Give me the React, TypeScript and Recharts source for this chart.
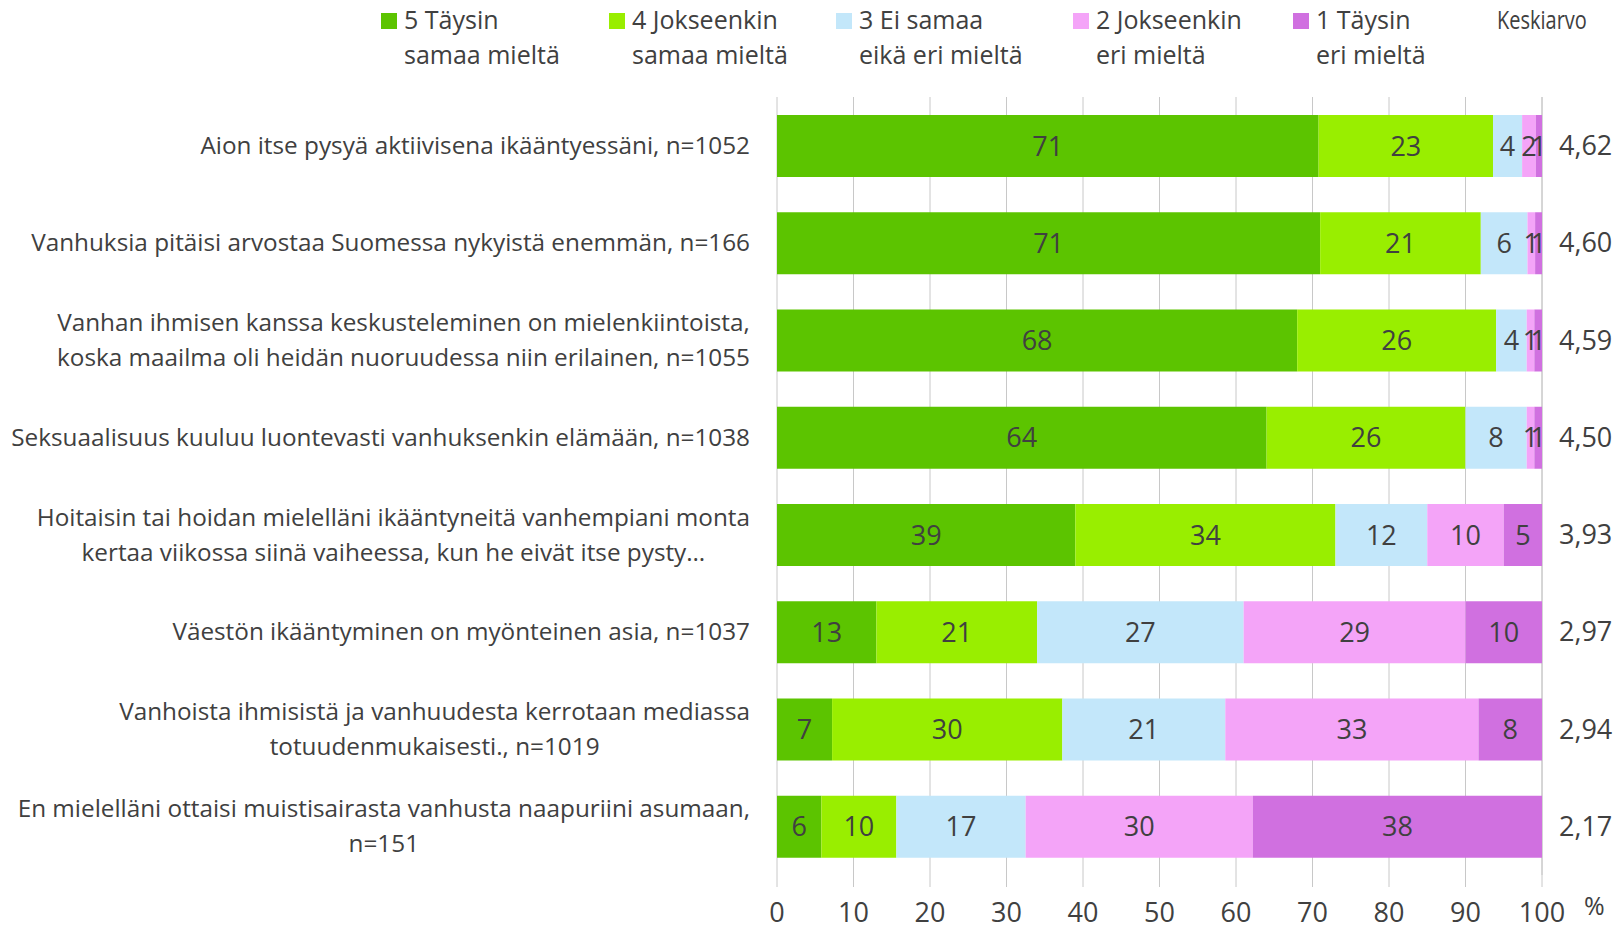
import React from "react";
import { BarChart, Bar, XAxis, YAxis, CartesianGrid, LabelList } from "recharts";

// ─── Data ─────────────────────────────────────────────────────────────────────

const CATEGORIES = [
  "Aion itse pysyä aktiivisena ikääntyessäni, n=1052",
  "Vanhuksia pitäisi arvostaa Suomessa nykyistä enemmän, n=166",
  "Vanhan ihmisen kanssa keskusteleminen on mielenkiintoista,\nkoska maailma oli heidän nuoruudessa niin erilainen, n=1055",
  "Seksuaalisuus kuuluu luontevasti vanhuksenkin elämään, n=1038",
  "Hoitaisin tai hoidan mielelläni ikääntyneitä vanhempiani monta\nkertaa viikossa siinä vaiheessa, kun he eivät itse pysty…",
  "Väestön ikääntyminen on myönteinen asia, n=1037",
  "Vanhoista ihmisistä ja vanhuudesta kerrotaan mediassa\ntotuudenmukaisesti., n=1019",
  "En mielelläni ottaisi muistisairasta vanhusta naapuriini asumaan,\nn=151",
];

const FULLY_AGREE = [70.8, 71, 68, 64, 39, 13, 7.2, 5.8];
const SOMEWHAT_AGREE = [22.8, 21, 26, 26, 34, 21, 30.1, 9.8];
const NEUTRAL = [3.8, 6.1, 4, 8, 12, 27, 21.3, 16.9];
const SOMEWHAT_DISAGREE = [1.8, 1, 1, 1, 10, 29, 33.1, 29.7];
const FULLY_DISAGREE = [0.8, 0.9, 1, 1, 5, 10, 8.3, 37.8];

const MEANS = ["4,62", "4,60", "4,59", "4,50", "3,93", "2,97", "2,94", "2,17"];

const X_TICKS = [0, 10, 20, 30, 40, 50, 60, 70, 80, 90, 100];

const SERIES = [
  { key: "s5", name: "5 Täysin\nsamaa mieltä", values: FULLY_AGREE, color: "#5cc400" },
  { key: "s4", name: "4 Jokseenkin\nsamaa mieltä", values: SOMEWHAT_AGREE, color: "#99ee00" },
  { key: "s3", name: "3 Ei samaa\neikä eri mieltä", values: NEUTRAL, color: "#c3e7fa" },
  { key: "s2", name: "2 Jokseenkin\neri mieltä", values: SOMEWHAT_DISAGREE, color: "#f4a4f8" },
  { key: "s1", name: "1 Täysin\neri mieltä", values: FULLY_DISAGREE, color: "#d070e0" },
];

const rows = CATEGORIES.map((name, i) => {
  const row: Record<string, any> = { name, mean: MEANS[i] };
  SERIES.forEach((s) => (row[s.key] = s.values[i]));
  return row;
});

// ─── Style ────────────────────────────────────────────────────────────────────

const FONT = "'Open Sans', sans-serif";
const TEXT = "#404040";
const LABEL_SIZE = 24.3;
const LEGEND_SIZE = 25;
const NUM_SIZE = 27;
const LINE_H = 35;
const LEGEND_LEFT = [381, 609, 836, 1073, 1293];

// ─── Text measuring for centred multi-line category labels ───────────────────

let ctx: CanvasRenderingContext2D | null = null;
function measure(text: string) {
  if (!ctx) ctx = document.createElement("canvas").getContext("2d");
  if (!ctx) return text.length * 11;
  ctx.font = `${LABEL_SIZE}px ${FONT}`;
  return ctx.measureText(text).width;
}

function CategoryTick({ x, y, payload }: any) {
  const lines = String(payload.value).split("\n");
  const maxW = Math.max(...lines.map(measure));
  const cx = x - maxW / 2;
  const top = y - ((lines.length - 1) * LINE_H) / 2;
  return (
    <text textAnchor="middle" fill={TEXT} fontSize={LABEL_SIZE} fontFamily={FONT}>
      {lines.map((l, i) => (
        <tspan key={i} x={cx} y={top + i * LINE_H} dy="0.35em">
          {l}
        </tspan>
      ))}
    </text>
  );
}

// ─── Legend ───────────────────────────────────────────────────────────────────

function TopLegend() {
  return (
    <>
      {SERIES.map((s, i) => (
        <div
          key={s.key}
          style={{ position: "absolute", left: LEGEND_LEFT[i], top: 2, display: "flex" }}
        >
          <div style={{ width: 16, height: 16, background: s.color, marginTop: 11, marginRight: 7 }} />
          <div style={{ fontSize: LEGEND_SIZE, lineHeight: `${LINE_H}px`, color: TEXT, whiteSpace: "pre" }}>
            {s.name}
          </div>
        </div>
      ))}
      <div
        style={{
          position: "absolute",
          left: 1497,
          top: 2,
          fontSize: LEGEND_SIZE,
          lineHeight: `${LINE_H}px`,
          color: TEXT,
          transform: "scaleX(0.8)",
          transformOrigin: "left",
        }}
      >
        Keskiarvo
      </div>
    </>
  );
}

// ─── Main ─────────────────────────────────────────────────────────────────────

export default function App() {
  return (
    <div
      style={{
        position: "absolute",
        left: 0,
        top: 0,
        width: 1624,
        height: 929,
        background: "#ffffff",
        fontFamily: FONT,
      }}
    >
      <TopLegend />
      <BarChart
        width={1624}
        height={929}
        data={rows}
        layout="vertical"
        barSize={62}
        margin={{ top: 97, right: 0, bottom: 0, left: 0 }}
      >
        <CartesianGrid horizontal={false} stroke="#c8c8c8" />
        <XAxis
          type="number"
          domain={[0, 100]}
          ticks={X_TICKS}
          height={54}
          axisLine={false}
          tickSize={12}
          tickMargin={16}
          tickLine={{ stroke: "#c8c8c8" }}
          tick={{ fill: TEXT, fontSize: NUM_SIZE, fontFamily: FONT }}
        />
        <YAxis
          yAxisId="left"
          type="category"
          dataKey="name"
          width={777}
          axisLine={false}
          tickLine={false}
          tickSize={0}
          tickMargin={27}
          tick={<CategoryTick />}
          interval={0}
        />
        <YAxis
          yAxisId="mean"
          orientation="right"
          type="category"
          dataKey="mean"
          width={82}
          axisLine={false}
          tickLine={false}
          tickSize={0}
          tickMargin={17}
          interval={0}
          tick={{ fill: TEXT, fontSize: NUM_SIZE, fontFamily: FONT }}
        />
        {SERIES.map((s) => (
          <Bar
            key={s.key}
            yAxisId="left"
            dataKey={s.key}
            stackId="a"
            fill={s.color}
            isAnimationActive={false}
          >
            <LabelList
              dataKey={s.key}
              position="center"
              formatter={(v: any) => Math.round(Number(v))}
              fill={TEXT}
              fontSize={NUM_SIZE}
              fontFamily={FONT}
            />
          </Bar>
        ))}
      </BarChart>
      <div
        style={{ position: "absolute", left: 1584, top: 890, fontSize: LEGEND_SIZE, lineHeight: "30px", color: TEXT }}
      >
        %
      </div>
    </div>
  );
}
